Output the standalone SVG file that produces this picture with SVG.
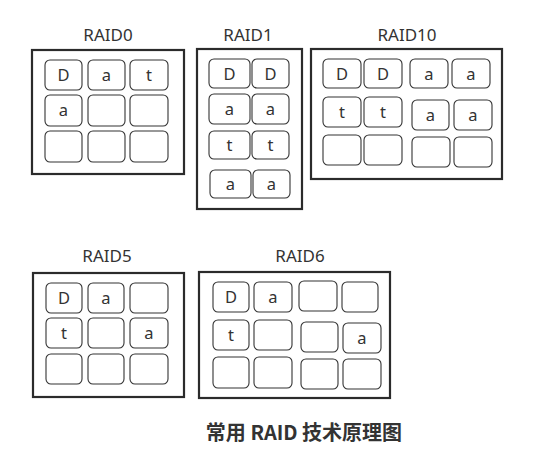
<svg xmlns="http://www.w3.org/2000/svg" width="541" height="460" viewBox="0 0 541 460">
<style>
.box{fill:#fff;stroke:#2b2b2b;stroke-width:2.2}
.c{fill:#fff;stroke:#333;stroke-width:1.1}
.t{font-family:"Noto Sans","Open Sans","Liberation Sans",sans-serif;font-size:16.5px;fill:#333;text-anchor:middle}
.lbl{font-family:"Noto Sans","Open Sans","Liberation Sans",sans-serif;font-size:17px;fill:#333;text-anchor:middle}
.cap{font-family:"Noto Sans CJK SC","Noto Sans",sans-serif;font-size:20px;font-weight:bold;fill:#333;text-anchor:middle}
</style>
<rect width="541" height="460" fill="#fff"/>
<g id="raid0">
<text class="lbl" x="108" y="41">RAID0</text>
<rect class="box" x="32" y="50" width="152" height="124"/>
<rect class="c" x="45" y="60" width="37" height="30" rx="5"/><text class="t" x="63.5" y="81">D</text>
<rect class="c" x="88" y="60" width="37" height="30" rx="5"/><text class="t" x="106.5" y="81">a</text>
<rect class="c" x="130" y="60" width="38" height="30" rx="5"/><text class="t" x="149" y="81">t</text>
<rect class="c" x="45" y="95" width="37" height="31" rx="5"/><text class="t" x="63.5" y="116">a</text>
<rect class="c" x="88" y="95" width="37" height="31" rx="5"/>
<rect class="c" x="130" y="95" width="38" height="31" rx="5"/>
<rect class="c" x="45" y="131" width="37" height="31" rx="5"/>
<rect class="c" x="88" y="131" width="37" height="31" rx="5"/>
<rect class="c" x="130" y="131" width="38" height="31" rx="5"/>
</g>
<g id="raid1">
<text class="lbl" x="248" y="41">RAID1</text>
<rect class="box" x="197" y="49" width="105" height="160"/>
<rect class="c" x="209" y="59" width="41" height="29" rx="5"/><text class="t" x="229.5" y="80">D</text>
<rect class="c" x="252" y="59" width="37" height="29" rx="5"/><text class="t" x="270.5" y="80">D</text>
<rect class="c" x="209" y="94" width="41" height="30" rx="5"/><text class="t" x="229.5" y="115">a</text>
<rect class="c" x="252" y="94" width="37" height="30" rx="5"/><text class="t" x="270.5" y="115">a</text>
<rect class="c" x="209" y="131" width="41" height="28" rx="5"/><text class="t" x="229.5" y="151">t</text>
<rect class="c" x="252" y="131" width="37" height="28" rx="5"/><text class="t" x="270.5" y="151">t</text>
<rect class="c" x="210" y="170" width="41" height="28" rx="5"/><text class="t" x="230.5" y="190">a</text>
<rect class="c" x="253" y="170" width="37" height="28" rx="5"/><text class="t" x="271.5" y="190">a</text>
</g>
<g id="raid10">
<text class="lbl" x="407" y="41">RAID10</text>
<rect class="box" x="311" y="49" width="191" height="130"/>
<rect class="c" x="323" y="59" width="38" height="29" rx="5"/><text class="t" x="342" y="80">D</text>
<rect class="c" x="364" y="59" width="38" height="29" rx="5"/><text class="t" x="383" y="80">D</text>
<rect class="c" x="410" y="59" width="38" height="29" rx="5"/><text class="t" x="429" y="80">a</text>
<rect class="c" x="452" y="59" width="38" height="29" rx="5"/><text class="t" x="471" y="80">a</text>
<rect class="c" x="323" y="97" width="38" height="30" rx="5"/><text class="t" x="342" y="118">t</text>
<rect class="c" x="364" y="97" width="38" height="30" rx="5"/><text class="t" x="383" y="118">t</text>
<rect class="c" x="412" y="100" width="37" height="30" rx="5"/><text class="t" x="430.5" y="121">a</text>
<rect class="c" x="454" y="100" width="38" height="30" rx="5"/><text class="t" x="473" y="121">a</text>
<rect class="c" x="323" y="135" width="38" height="30" rx="5"/>
<rect class="c" x="364" y="135" width="38" height="30" rx="5"/>
<rect class="c" x="412" y="137" width="38" height="30" rx="5"/>
<rect class="c" x="454" y="137" width="38" height="30" rx="5"/>
</g>
<g id="raid5">
<text class="lbl" x="107" y="262">RAID5</text>
<rect class="box" x="33" y="273" width="151" height="124"/>
<rect class="c" x="46" y="283" width="36" height="30" rx="5"/><text class="t" x="64" y="304">D</text>
<rect class="c" x="88" y="283" width="36" height="30" rx="5"/><text class="t" x="106" y="304">a</text>
<rect class="c" x="130" y="283" width="38" height="30" rx="5"/>
<rect class="c" x="46" y="318" width="36" height="30" rx="5"/><text class="t" x="64" y="339">t</text>
<rect class="c" x="88" y="318" width="36" height="30" rx="5"/>
<rect class="c" x="130" y="318" width="38" height="30" rx="5"/><text class="t" x="149" y="339">a</text>
<rect class="c" x="46" y="354" width="36" height="30" rx="5"/>
<rect class="c" x="88" y="354" width="36" height="30" rx="5"/>
<rect class="c" x="130" y="354" width="38" height="30" rx="5"/>
</g>
<g id="raid6">
<text class="lbl" x="300" y="262">RAID6</text>
<rect class="box" x="199" y="272" width="191" height="126"/>
<rect class="c" x="213" y="282" width="36" height="30" rx="5"/><text class="t" x="231" y="303">D</text>
<rect class="c" x="254" y="282" width="38" height="30" rx="5"/><text class="t" x="273" y="303">a</text>
<rect class="c" x="299" y="281" width="38" height="30" rx="5"/>
<rect class="c" x="342" y="282" width="36" height="30" rx="5"/>
<rect class="c" x="213" y="320" width="36" height="30" rx="5"/><text class="t" x="231" y="341">t</text>
<rect class="c" x="254" y="320" width="38" height="30" rx="5"/>
<rect class="c" x="301" y="322" width="37" height="30" rx="5"/>
<rect class="c" x="343" y="323" width="38" height="30" rx="5"/><text class="t" x="362" y="344">a</text>
<rect class="c" x="213" y="357" width="36" height="31" rx="5"/>
<rect class="c" x="254" y="357" width="38" height="31" rx="5"/>
<rect class="c" x="301" y="359" width="37" height="30" rx="5"/>
<rect class="c" x="343" y="359" width="38" height="30" rx="5"/>
</g>
<text class="cap" x="304" y="440">常用 RAID 技术原理图</text>
</svg>
